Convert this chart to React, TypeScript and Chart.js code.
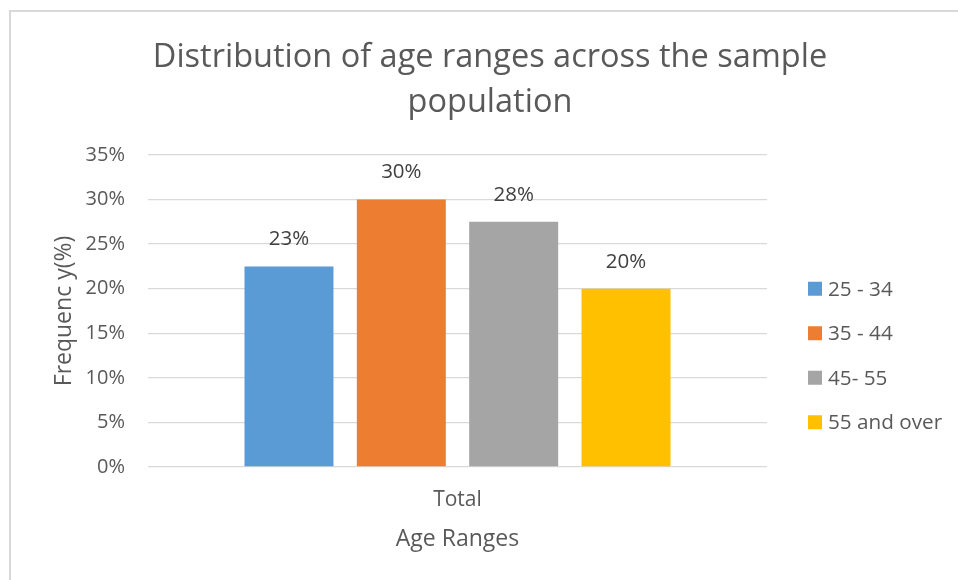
import React, { useEffect, useRef } from "react";
import { Chart, registerables } from "chart.js";

Chart.register(...registerables);

const categories = ["Total"];
const seriesNames = ["25 - 34", "35 - 44", "45- 55", "55 and over"];
const seriesValues = [22.5, 30, 27.5, 20];
const seriesColors = ["#5B9BD5", "#ED7D31", "#A5A5A5", "#FFC000"];
const titleLines = ["Distribution of age ranges across the sample", "population"];
const yTitle = "Frequenc y(%)";
const xTitle = "Age Ranges";
const yMin = 0;
const yMax = 35;
const yStep = 5;

const FONT = "'Open Sans', 'Noto Sans', sans-serif";
const TEXT = "#595959";

const borderPlugin = {
  id: "outerBorder",
  beforeDraw(chart: any) {
    const ctx = chart.ctx;
    ctx.save();
    ctx.fillStyle = "#ffffff";
    ctx.fillRect(0, 0, chart.width, chart.height);
    ctx.fillStyle = "#D9D9D9";
    ctx.fillRect(9, 10, chart.width, 2);
    ctx.fillRect(9, 10, 2, chart.height);
    ctx.restore();
  },
};

const dataLabelPlugin = {
  id: "dataLabels",
  afterDatasetsDraw(chart: any) {
    const ctx = chart.ctx;
    ctx.save();
    ctx.font = `20.5px ${FONT}`;
    ctx.fillStyle = "#404040";
    ctx.textAlign = "center";
    ctx.textBaseline = "middle";
    chart.data.datasets.forEach((ds: any, i: number) => {
      const meta = chart.getDatasetMeta(i);
      meta.data.forEach((el: any, j: number) => {
        const v = ds.data[j];
        ctx.fillText(Math.round(v) + "%", el.x, el.y - 27);
      });
    });
    ctx.restore();
  },
};

const legendPlugin = {
  id: "sideLegend",
  afterDraw(chart: any) {
    const ctx = chart.ctx;
    const area = chart.chartArea;
    const spacing = 44.5;
    const n = chart.data.datasets.length;
    const centerY = (area.top + area.bottom) / 2 + spacing;
    const boxX = area.right + 41;
    ctx.save();
    ctx.font = `20.7px ${FONT}`;
    ctx.textBaseline = "middle";
    ctx.textAlign = "left";
    chart.data.datasets.forEach((ds: any, i: number) => {
      const y = centerY + (i - (n - 1) / 2) * spacing;
      ctx.fillStyle = ds.backgroundColor;
      ctx.fillRect(boxX, y - 7, 14, 14);
      ctx.fillStyle = TEXT;
      ctx.fillText(ds.label, boxX + 20, y + 1);
    });
    ctx.restore();
  },
};

export default function App() {
  const ref = useRef<HTMLCanvasElement | null>(null);

  useEffect(() => {
    if (!ref.current) return;
    const chart = new Chart(ref.current, {
      type: "bar",
      data: {
        labels: categories,
        datasets: seriesNames.map((name, i) => ({
          label: name,
          data: [seriesValues[i]],
          backgroundColor: seriesColors[i],
          borderWidth: 0,
          barPercentage: 0.792,
          categoryPercentage: 0.726,
        })),
      },
      options: {
        responsive: false,
        animation: false,
        layout: { padding: { left: 47, right: 25, top: 0, bottom: 23 } },
        plugins: {
          legend: { display: false },
          tooltip: { enabled: false },
          title: {
            display: true,
            text: titleLines,
            color: TEXT,
            font: { family: FONT, size: 32.5, weight: "normal", lineHeight: 45 / 32.5 },
            padding: { top: 35, bottom: 30 },
          },
        },
        scales: {
          x: {
            grid: { display: false },
            border: { display: false },
            ticks: { color: TEXT, font: { family: FONT, size: 21 }, padding: 12 },
            title: {
              display: true,
              text: xTitle,
              color: TEXT,
              font: { family: FONT, size: 23 },
            },
            afterFit: (s: any) => {
              s.height = 90;
            },
          },
          y: {
            min: yMin,
            max: yMax,
            grid: { color: "#D9D9D9", lineWidth: 1.3, drawTicks: false },
            border: { display: false },
            ticks: {
              stepSize: yStep,
              color: TEXT,
              font: { family: FONT, size: 20 },
              padding: 23,
              callback: (v: any) => v + "%",
            },
            title: {
              display: true,
              text: yTitle,
              color: TEXT,
              font: { family: FONT, size: 23 },
            },
            afterFit: (s: any) => {
              s.width = 101;
            },
          },
          spacer: {
            type: "linear",
            position: "right",
            display: true,
            grid: { display: false },
            border: { display: false },
            ticks: { display: false },
            afterFit: (s: any) => {
              s.width = 166;
            },
          },
        },
      },
      plugins: [borderPlugin, dataLabelPlugin, legendPlugin],
    } as any);
    return () => chart.destroy();
  }, []);

  return (
    <div style={{ position: "absolute", left: 0, top: 0, width: 958, height: 580, overflow: "hidden", background: "#fff" }}>
      <canvas ref={ref} width={958} height={580} style={{ display: "block" }} />
    </div>
  );
}
